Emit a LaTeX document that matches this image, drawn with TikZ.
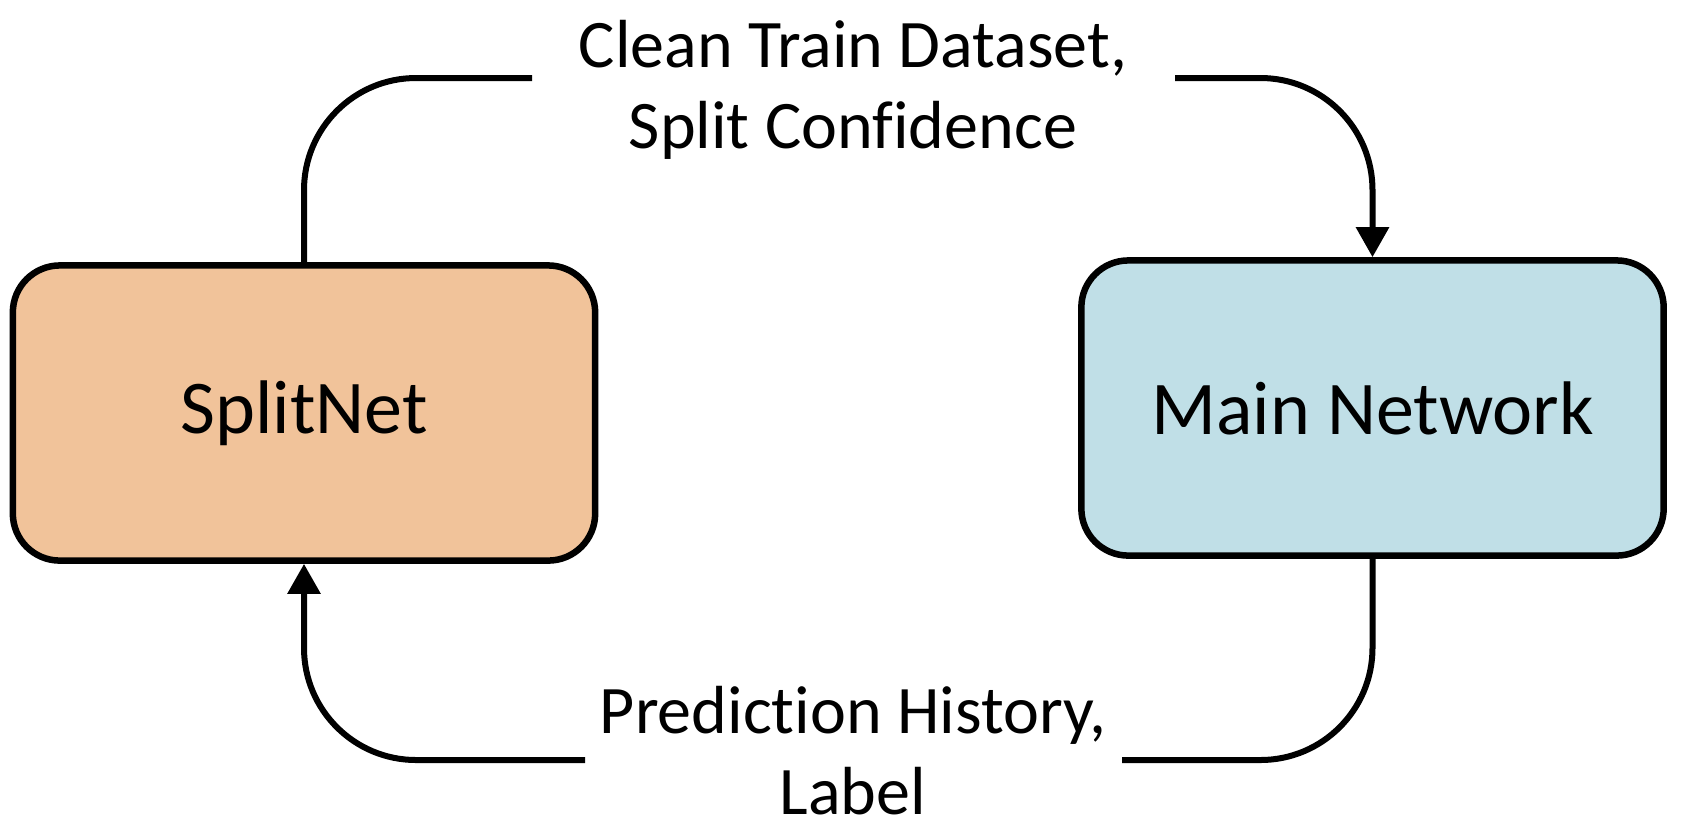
\documentclass[tikz,border=0pt]{standalone}
\usepackage{fontspec}
\setmainfont{Carlito}[Ligatures=NoCommon]
\usepackage{xcolor}
\usetikzlibrary{arrows.meta}
\definecolor{splitorange}{RGB}{241,195,154}
\definecolor{mainblue}{RGB}{192,223,231}

\begin{document}
\begin{tikzpicture}[x=0.01cm,y=-0.01cm,
	box/.style={draw,line width=0.065cm,rounded corners=0.47cm,minimum width=5.82cm,minimum height=2.95cm,inner sep=0pt,font=\fontsize{21.6}{26}\selectfont},
	lbl/.style={align=center,inner sep=0pt,anchor=north,font=\fontsize{19.35}{22.8}\selectfont},
	flow/.style={line width=0.06cm,rounded corners=1.12cm}]
	\useasboundingbox (0,0) rectangle (1682,838);
	\node[box,fill=splitorange] (S) at (304,413) {SplitNet};
	\node[box,fill=mainblue] (M) at (1372.5,408) {Main Network};
	%
	\node[lbl] (T) at (853,20) {Clean Train Dataset,\\Split Confidence};
	\node[lbl] (B) at (853,686) {Prediction History,\\Label};
	\coordinate (T1) at (532,78);
	\coordinate (T2) at (1175,78);
	\coordinate (B1) at (1122,760);
	\coordinate (B2) at (585,760);
	%
	\draw[flow] (S.north) |- (T1);
	\draw[flow,-{Triangle[width=0.32cm,length=0.3cm]}] (T2) -| (M.north);
	\draw[flow] (M.south) |- (B1);
	\draw[flow,-{Triangle[width=0.32cm,length=0.3cm]}] (B2) -| (S.south);
\end{tikzpicture}
\end{document}
